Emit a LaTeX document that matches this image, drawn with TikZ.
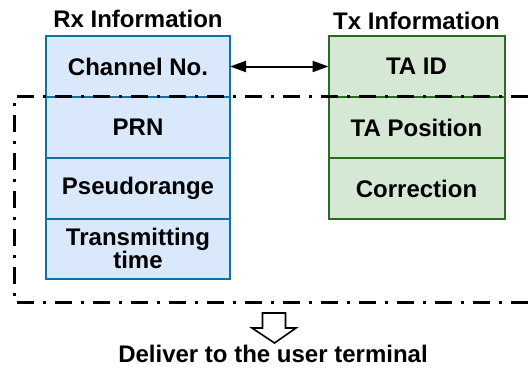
\documentclass[tikz,border=0pt]{standalone}
\usepackage{fontspec}
\setmainfont{Liberation Sans}
\usetikzlibrary{positioning,arrows.meta}
\definecolor{rxfill}{HTML}{DAE8FC}
\definecolor{rxline}{HTML}{10739E}
\definecolor{txfill}{HTML}{D5E8D4}
\definecolor{txline}{RGB}{45,105,35}

\begin{document}
\begin{tikzpicture}[x=0.5pt, y=-0.5pt, font=\fontsize{12}{11.5}\selectfont\bfseries]
	\tikzstyle{rxcell}=[draw=rxline, fill=rxfill, line width=1pt, minimum width=92pt, minimum height=30.4pt, inner sep=0pt, outer sep=0pt, align=center]
	\tikzstyle{txcell}=[draw=txline, fill=txfill, line width=1pt, minimum width=88pt, minimum height=30.5pt, inner sep=0pt, outer sep=0pt, align=center]
	\tikzstyle{frame}=[line width=1.5pt, dash pattern=on 8.5pt off 4.5pt on 1.5pt off 4.5pt]
	\useasboundingbox (0,0) rectangle (528,371);

	% receiver side
	\node[anchor=base] (rxtitle) at (138,27) {Rx Information};
	\node[rxcell] (chan) at (138,66.5) {Channel No.};
	\node[rxcell, below=0pt of chan] (prn) {PRN};
	\node[rxcell, below=0pt of prn] (prange) {Pseudorange};
	\node[rxcell, below=0pt of prange] (ttime) {Transmitting\\time};

	% transmitter side
	\node[anchor=base] (txtitle) at (416.5,29.5) {Tx Information};
	\node[txcell] (taid) at (416.5,66.5) {TA ID};
	\node[txcell, below=0pt of taid] (tapos) {TA Position};
	\node[txcell, below=0pt of tapos] (corr) {Correction};

	\draw[<->, >={Triangle[length=8pt,width=5.5pt]}, line width=1pt] (chan) -- (taid);

	% what goes to the terminal
	\draw[frame] (528,96.7) -- (14,96.7) -- (14,302) -- (528,302);

	\coordinate (tip) at (274.5,343);
	\draw[line width=0.8pt, fill=white] (tip) -- ++(-22.5,-15) -- ++(10.5,0) -- ++(0,-15) -- ++(23,0) -- ++(0,15) -- ++(10.5,0) -- cycle;
	\node[anchor=base] (deliver) at (273,362) {Deliver to the user terminal};
\end{tikzpicture}
\end{document}
